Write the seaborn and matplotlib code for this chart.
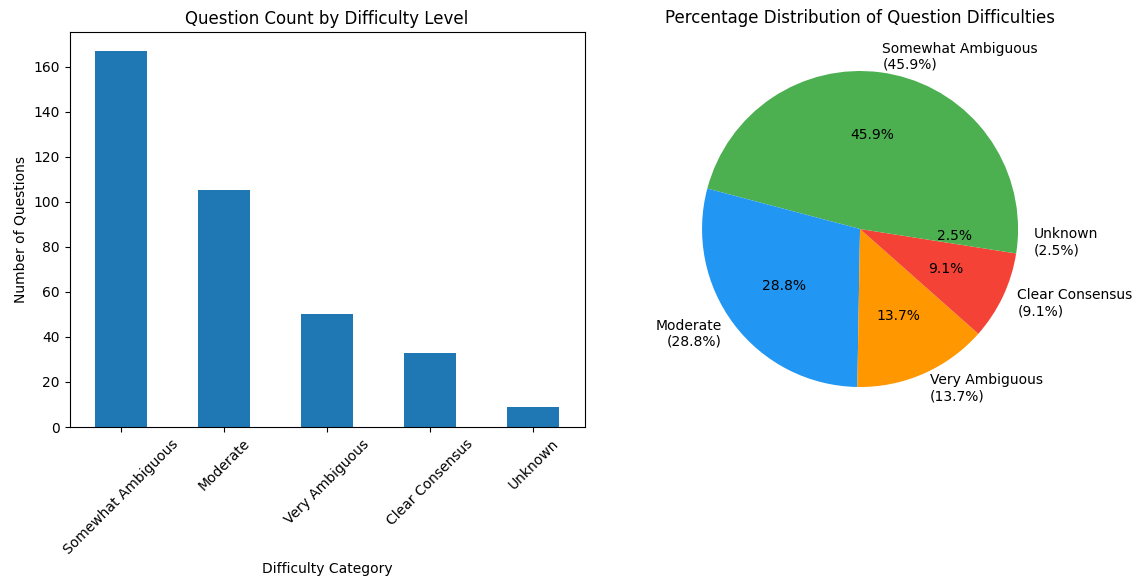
import matplotlib
matplotlib.use("Agg")
import matplotlib.pyplot as plt
import seaborn as sns
import pandas as pd

# data
categories = ["Somewhat Ambiguous", "Moderate", "Very Ambiguous", "Clear Consensus", "Unknown"]
counts = [167, 105, 50, 33, 9]
pie_colors = ["#4CAF50", "#2196F3", "#FF9800", "#F44336"]

df = pd.DataFrame({"category": categories, "count": counts})
total = sum(counts)
pie_labels = [f"{c}\n({n / total * 100:.1f}%)" for c, n in zip(categories, counts)]

fig = plt.figure(figsize=(11.38, 5.78), dpi=100)
ax1 = fig.add_axes([0.0611, 0.2612, 0.4527, 0.6834])
ax2 = fig.add_axes([0.5822, 0.2621, 0.3471, 0.6834])

# bar chart
sns.barplot(data=df, x="category", y="count", color="#1f77b4", width=0.5, saturation=1, ax=ax1)
ax1.set_title("Question Count by Difficulty Level")
ax1.set_xlabel("Difficulty Category")
ax1.set_ylabel("Number of Questions")
ax1.set_xlim(-0.5, len(categories) - 0.5)
ax1.tick_params(axis="x", rotation=45)

# pie chart
ax2.pie(counts, labels=pie_labels, autopct="%1.1f%%", colors=pie_colors)
ax2.set_title("Percentage Distribution of Question Difficulties")

fig.savefig("out.png", dpi=100)
